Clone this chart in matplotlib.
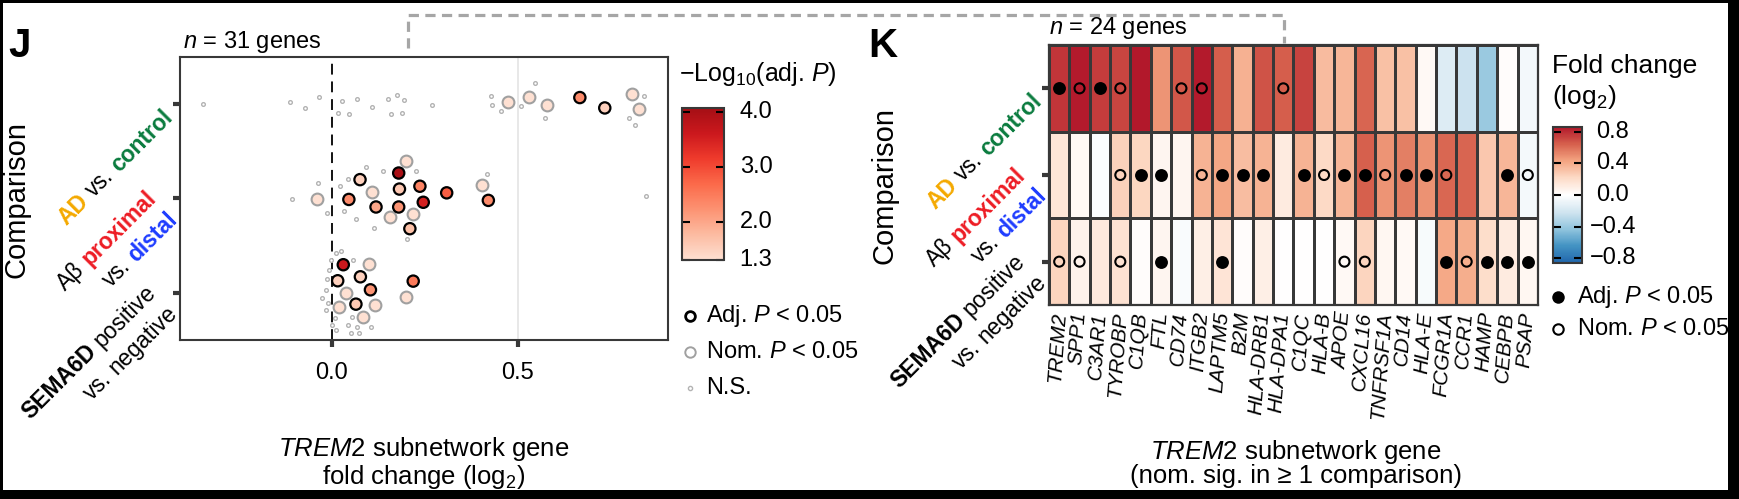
import numpy as np
import matplotlib

matplotlib.use("Agg")
import matplotlib.pyplot as plt  # noqa: E402
from matplotlib.colors import LinearSegmentedColormap, Normalize  # noqa: E402
from matplotlib.cm import ScalarMappable  # noqa: E402
from matplotlib.lines import Line2D  # noqa: E402
from matplotlib.patches import Rectangle  # noqa: E402

plt.rcParams["font.family"] = ["Liberation Sans", "DejaVu Sans"]
plt.rcParams["mathtext.fontset"] = "custom"
plt.rcParams["mathtext.rm"] = "Liberation Sans"
plt.rcParams["mathtext.it"] = "Liberation Sans:italic"
plt.rcParams["mathtext.bf"] = "Liberation Sans:bold"

W, H, DPI = 1740, 499, 100

# ---- panel J: per-gene fold change (x) and jittered row position (y) ----
# comparisons: 3 = AD vs control, 2 = Abeta proximal vs distal, 1 = SEMA6D
ns_x = [-0.347, -0.111, -0.073, -0.033, 0.018, 0.028, 0.047, 0.069, 0.108, 0.150,
        0.175, 0.194, 0.159, 0.189, 0.270, 0.429, 0.431, 0.456, 0.508, 0.546,
        0.574, 0.840, 0.800, 0.816,
        -0.106, -0.037, -0.012, 0.022, 0.034, 0.044, 0.064, 0.091, 0.113, 0.139,
        0.227, 0.201, 0.417, 0.845,
        0.011, 0.025, -0.002, 0.056, -0.012, -0.016, -0.027, -0.009, -0.015, 0.009,
        0.054, 0.000, 0.012, 0.045, 0.052, 0.069, 0.072, 0.106, -0.007]
ns_y = [3.00, 3.02, 2.96, 3.08, 2.91, 3.03, 2.90, 3.05, 2.97, 3.05,
        3.10, 3.04, 2.90, 2.91, 2.99, 3.09, 2.99, 2.93, 2.98, 3.22,
        2.85, 3.09, 2.85, 2.78,
        1.99, 2.16, 1.85, 2.13, 1.87, 2.21, 1.78, 2.33, 1.69, 2.29,
        2.29, 1.57, 2.26, 2.03,
        1.422, 1.447, 1.344, 1.344, 1.146, 1.032, 0.944, 0.890, 0.819, 0.731,
        0.748, 0.660, 0.606, 0.660, 0.578, 0.641, 0.578, 0.641, 1.245]
nom_x = [0.475, 0.529, 0.579, 0.806, 0.826,
         -0.040, 0.108, 0.156, 0.200, 0.219, 0.404,
         0.100, 0.038, 0.020, 0.115, 0.083, 0.200]
nom_y = [3.02, 3.08, 2.99, 3.11, 2.95,
         1.99, 2.07, 1.80, 2.40, 1.84, 2.14,
         1.309, 1.000, 0.854, 0.869, 0.741, 0.961]
adj_x = [0.667, 0.734,
         0.076, 0.046, 0.119, 0.180, 0.182, 0.180, 0.237, 0.246, 0.309, 0.421, 0.210,
         0.031, 0.016, 0.077, 0.104, 0.065, 0.219]
adj_y = [3.07, 2.96,
         2.20, 1.99, 1.91, 2.27, 2.10, 1.91, 2.13, 1.96, 2.06, 1.98, 1.68,
         1.298, 1.128, 1.170, 1.032, 0.880, 1.124]
adj_logp = [2.3, 1.5,
            1.5, 2.3, 2.0, 4.0, 1.6, 2.2, 2.4, 3.5, 2.8, 2.3, 1.7,
            3.6, 1.5, 1.5, 2.2, 1.6, 2.5]

# ---- panel K: heatmap ----
genes = ["TREM2", "SPP1", "C3AR1", "TYROBP", "C1QB", "FTL", "CD74", "ITGB2",
         "LAPTM5", "B2M", "HLA-DRB1", "HLA-DPA1", "C1QC", "HLA-B", "APOE",
         "CXCL16", "TNFRSF1A", "CD14", "HLA-E", "FCGR1A", "CCR1", "HAMP",
         "CEBPB", "PSAP"]
fc_ad = [0.77, 0.85, 0.75, 0.72, 0.86, 0.48, 0.67, 0.85, 0.65, 0.38, 0.68, 0.65,
         0.73, 0.34, 0.36, 0.63, 0.32, 0.32, 0.04, -0.16, -0.23, -0.40, 0.02, -0.06]
fc_abeta = [0.15, 0.04, -0.02, 0.25, 0.23, 0.06, 0.06, 0.37, 0.42, 0.33, 0.37, 0.12,
            0.37, 0.22, 0.36, 0.64, 0.48, 0.55, 0.49, 0.62, 0.63, 0.29, 0.36, -0.05]
fc_sema = [0.24, 0.08, 0.13, 0.17, 0.02, 0.06, -0.03, 0.10, 0.16, 0.02, 0.10, 0.00,
           0.00, 0.00, 0.04, 0.24, 0.05, 0.04, -0.04, 0.41, 0.39, 0.20, 0.12, 0.05]
# a = adj. P < 0.05, n = nom. P < 0.05, . = none
sig_ad = "anan..nn...n............"
sig_abeta = "...naa.naaa.anaanaan..an"
sig_sema = "nn.n.a..a.....nn...anaaa"

LBL_AD = [[("AD", "#F4A900", "bold"), ("vs.", "black", "normal"),
           ("control", "#0A7B3E", "bold")]]
LBL_AB = [[("A\u03b2", "black", "normal"), ("proximal", "#ED1C24", "bold")],
          [("vs.", "black", "normal"), ("distal", "#1E3CFF", "bold")]]
LBL_SE = [[("SEMA6D", "black", "bold"), ("positive", "black", "normal")],
          [("vs.", "black", "normal"), ("negative", "black", "normal")]]

DARK = "#383838"


def box(l, t, r, b):
    return [l / W, 1 - b / H, (r - l) / W, (b - t) / H]


def fig_text(fig, x, y, s, **kw):
    fig.text(x / W, 1 - y / H, s, **kw)


def rich_ylabels(fig, ax, items, fs, off1, off2):
    """45-degree multi-coloured tick labels, right end of block at the tick."""
    r = fig.canvas.get_renderer()
    px = fs * DPI / 72
    sp = 0.28 * px
    th = np.deg2rad(45)
    u = np.array([np.cos(th), np.sin(th)])
    nrm = np.array([np.sin(th), -np.cos(th)])
    xl = ax.transAxes.transform((0, 0))[0]
    inv = fig.transFigure.inverted()
    for ypos, lines in items:
        yd = ax.transData.transform((0, ypos))[1]
        dx, dy = off1 if len(lines) == 1 else off2
        anchor = np.array([xl + dx, yd - dy])
        for i, words in enumerate(lines):
            widths = []
            for txt, col, wt in words:
                t = fig.text(0, 0, txt, fontsize=fs, fontweight=wt)
                widths.append(t.get_window_extent(r).width)
                t.remove()
            total = sum(widths) + sp * (len(words) - 1)
            shift = (i - (len(lines) - 1) / 2) * 1.3 * px + 0.36 * px
            p = anchor + nrm * shift - u * total
            for (txt, col, wt), w in zip(words, widths):
                q = inv.transform(p)
                fig.text(q[0], q[1], txt, color=col, fontsize=fs, fontweight=wt,
                         rotation=45, rotation_mode="anchor", ha="left",
                         va="baseline")
                p = p + u * (w + sp)


def main():
    fig = plt.figure(figsize=(W / DPI, H / DPI), dpi=DPI)

    cmap_p = LinearSegmentedColormap.from_list(
        "p", ["#FEE0D2", "#FCBBA1", "#FC9272", "#FB6A4A", "#EF3B2C", "#CB181D",
              "#A50F15"])
    norm_p = Normalize(1.3, 4.07)
    cmap_fc = LinearSegmentedColormap.from_list(
        "fc", ["#2166AC", "#4393C3", "#92C5DE", "#D1E5F0", "#FFFFFF", "#FDDBC7",
               "#F4A582", "#D6604D", "#B2182B"])
    norm_fc = Normalize(-0.86, 0.86)

    # ---------------- panel J ----------------
    axj = fig.add_axes(box(180, 57, 668, 340))
    axj.axvline(0.5, color="#E4E4E4", lw=1.2, zorder=0)
    axj.axvline(0, color="black", lw=1.3, ls=(0, (6, 3.8)), zorder=1)
    axj.scatter(ns_x, ns_y, s=7, facecolors="white", edgecolors="#B3B3B3",
                linewidths=1.0, zorder=2)
    axj.scatter(nom_x, nom_y, s=72, color=cmap_p(0.0), edgecolors="#A0A0A0",
                linewidths=1.5, zorder=3)
    axj.scatter(adj_x, adj_y, s=66, c=adj_logp, cmap=cmap_p, norm=norm_p,
                edgecolors="black", linewidths=1.6, zorder=4)
    axj.set_xlim(-0.408, 0.904)
    axj.set_ylim(0.5, 3.5)
    axj.set_xticks([0, 0.5])
    axj.set_xticklabels(["0.0", "0.5"], fontsize=17)
    axj.set_yticks([1, 2, 3])
    axj.set_yticklabels([])
    axj.tick_params(axis="both", length=5, width=3, color=DARK)
    axj.tick_params(axis="x", pad=11)
    for s in axj.spines.values():
        s.set_color(DARK)
        s.set_linewidth(1.5)

    cj = fig.add_axes(box(682, 108, 724, 260))
    cb = fig.colorbar(ScalarMappable(norm_p, cmap_p), cax=cj)
    cb.outline.set_edgecolor(DARK)
    cb.outline.set_linewidth(1.5)
    cb.set_ticks([1.3, 2.0, 3.0, 4.0])
    cb.set_ticklabels([])
    cj.tick_params(direction="in", length=6, width=1.5, color="black",
                   left=True, right=True)
    for v, s in zip([1.3, 2.0, 3.0, 4.0], ["1.3", "2.0", "3.0", "4.0"]):
        yy = cj.transData.transform((0, v))[1]
        fig.text(756 / W, yy / H, s, fontsize=17, ha="center", va="center")
    fig_text(fig, 679, 81, "\u2212Log$_{10}$(adj. $P$)", fontsize=18,
             va="baseline")

    legj = [("Adj. $P$ < 0.05", dict(ms=7, mfc="white", mec="black", mew=2.0)),
            ("Nom. $P$ < 0.05", dict(ms=7.5, mfc="white", mec="#A0A0A0", mew=1.4)),
            ("N.S.", dict(ms=3, mfc="white", mec="#B3B3B3", mew=1.0))]
    for k, (lab, st) in enumerate(legj):
        y = 316 + 36 * k
        fig.add_artist(Line2D([690 / W], [1 - y / H], marker="o", ls="none",
                              transform=fig.transFigure, **st))
        fig_text(fig, 706, y, lab, fontsize=17, va="center")

    fig_text(fig, 8, 57, "J", fontsize=29, fontweight="bold", va="baseline")
    fig_text(fig, 183, 48, "$n$ = 31 genes", fontsize=17, va="baseline")
    fig_text(fig, 17, 199, "Comparison", fontsize=21, rotation=90,
             ha="center", va="center")
    fig_text(fig, 424, 456, "$\\mathit{TREM2}$ subnetwork gene", fontsize=18.5,
             ha="center", va="baseline")
    fig_text(fig, 424, 484, "fold change (log$_2$)", fontsize=18.5,
             ha="center", va="baseline")

    # ---------------- panel K ----------------
    axk = fig.add_axes(box(1049, 45, 1538, 305))
    fc = np.array([fc_ad, fc_abeta, fc_sema])
    axk.pcolormesh(np.arange(len(genes) + 1), np.arange(4), fc, cmap=cmap_fc,
                   norm=norm_fc, edgecolors=DARK, linewidth=0.9)
    for yy in (1, 2):
        axk.axhline(yy, color=DARK, lw=1.8)
    for r, row in enumerate([sig_ad, sig_abeta, sig_sema]):
        xa = [c + 0.5 for c, ch in enumerate(row) if ch == "a"]
        xn = [c + 0.5 for c, ch in enumerate(row) if ch == "n"]
        axk.scatter(xa, [r + 0.5] * len(xa), s=86, color="black", lw=0, zorder=3)
        axk.scatter(xn, [r + 0.5] * len(xn), s=52, facecolors="none",
                    edgecolors="black", linewidths=1.5, zorder=3)
    axk.set_xlim(0, len(genes))
    axk.set_ylim(3, 0)
    axk.set_xticks(np.arange(len(genes)) + 0.5)
    axk.set_xticklabels(genes, fontsize=15, fontstyle="italic", rotation=86,
                        ha="right", va="center", rotation_mode="anchor")
    axk.set_yticks([0.5, 1.5, 2.5])
    axk.set_yticklabels([])
    axk.tick_params(axis="x", length=0, pad=5)
    axk.tick_params(axis="y", length=5, width=3, color=DARK)
    for s in axk.spines.values():
        s.set_color(DARK)
        s.set_linewidth(1.6)

    ck = fig.add_axes(box(1553, 127, 1582, 263))
    cb2 = fig.colorbar(ScalarMappable(norm_fc, cmap_fc), cax=ck)
    cb2.outline.set_edgecolor(DARK)
    cb2.outline.set_linewidth(1.5)
    ticks = [-0.8, -0.4, 0.0, 0.4, 0.8]
    cb2.set_ticks(ticks)
    cb2.set_ticklabels([])
    ck.tick_params(direction="in", length=6, width=1.5, color="black",
                   left=True, right=True)
    for v in ticks:
        yy = ck.transData.transform((0, v))[1]
        s = f"{v:.1f}".replace("-", "\u2212")
        fig.text(1613 / W, yy / H, s, fontsize=17, ha="center", va="center")
    fig_text(fig, 1552, 73, "Fold change", fontsize=19, va="baseline")
    fig_text(fig, 1552, 104, "(log$_2$)", fontsize=19, va="baseline")

    legk = [("Adj. $P$ < 0.05", dict(ms=9, mfc="black", mec="black", mew=0)),
            ("Nom. $P$ < 0.05", dict(ms=7.5, mfc="white", mec="black", mew=1.5))]
    for k, (lab, st) in enumerate(legk):
        y = 297 + 32 * k
        fig.add_artist(Line2D([1558 / W], [1 - y / H], marker="o", ls="none",
                              transform=fig.transFigure, **st))
        fig_text(fig, 1577, y, lab, fontsize=17, va="center")

    fig_text(fig, 868, 57, "K", fontsize=29, fontweight="bold", va="baseline")
    fig_text(fig, 1049, 34, "$n$ = 24 genes", fontsize=17, va="baseline")
    fig_text(fig, 885, 186, "Comparison", fontsize=21, rotation=90,
             ha="center", va="center")
    fig_text(fig, 1296, 459, "$\\mathit{TREM2}$ subnetwork gene", fontsize=18.5,
             ha="center", va="baseline")
    fig_text(fig, 1296, 483, "(nom. sig. in \u2265 1 comparison)", fontsize=18.5,
             ha="center", va="baseline")

    items = [(3, LBL_AD), (2, LBL_AB), (1, LBL_SE)]
    rich_ylabels(fig, axj, items, 16.5, (-12, 8), (-18, 5.5))
    rich_ylabels(fig, axk, [(0.5, LBL_AD), (1.5, LBL_AB), (2.5, LBL_SE)],
                 16.5, (-12, 8), (-18, 5.5))

    # dashed connector between the two panels
    px = np.array([408, 408, 1284, 1284])
    py = np.array([48, 15, 15, 43])
    fig.add_artist(Line2D(px / W, 1 - py / H, color="#A6A6A6", lw=2.3,
                          ls=(0, (3.2, 2.0)), transform=fig.transFigure))

    # black frame around the figure
    for l, t, r, b in [(0, 0, 3, H), (0, 0, W, 3), (W - 12, 0, W, H),
                       (0, H - 9, W, H)]:
        fig.add_artist(Rectangle((l / W, 1 - b / H), (r - l) / W, (b - t) / H,
                                 color="black", transform=fig.transFigure, lw=0))

    fig.savefig("out.png", dpi=DPI)


if __name__ == "__main__":
    main()
